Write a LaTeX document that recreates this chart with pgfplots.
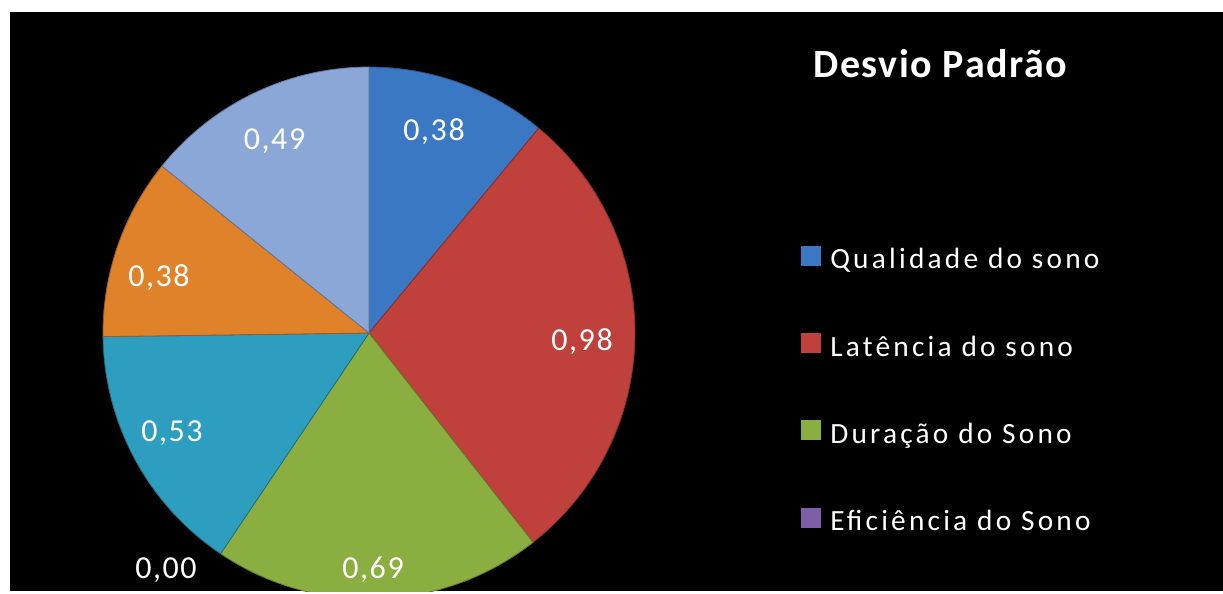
\documentclass[border=0pt]{standalone}
\usepackage{pgfplots}
\pgfplotsset{compat=1.18}
\usepackage{pgfplotstable}
\usepackage{fontspec}
\setmainfont{Carlito}
\newfontfamily\rotulos{Carlito}[LetterSpace=5]
\newfontfamily\legenda{Carlito}[LetterSpace=11]
\newfontfamily\titulo{Carlito}[LetterSpace=4]

% slice colours, clockwise from the top
\definecolor{fatia0}{HTML}{3A78C4}
\definecolor{fatia1}{HTML}{C0403C}
\definecolor{fatia2}{HTML}{8AAE3F}
\definecolor{fatia3}{HTML}{7D5FA8}
\definecolor{fatia4}{HTML}{2E9EC0}
\definecolor{fatia5}{HTML}{E0822A}
\definecolor{fatia6}{HTML}{8BA7D8}

% standard deviation of each component, clockwise from 12 o'clock;
% lx, ly: where its value label sits (offset from the centre, in px)
\pgfplotstableread{
valor lx    ly
0.38  65    192
0.98  213   -17
0.69  4     -245
0.00  -203  -245
0.53  -197  -108
0.38  -210  47
0.49  -94.5 183
}\dados

\pgfplotsset{
  fatia/.style={
    legend image code/.code={\fill[##1,draw=none] (0pt,-5.25pt) rectangle (15pt,9.75pt);}},
}

\begin{document}
\begin{tikzpicture}
% cumulative angles of the slices
\pgfplotstablegetrowsof{\dados}
\pgfmathtruncatemacro\nfatias{\pgfplotsretval-1}
\xdef\total{0}
\foreach \i in {0,...,\nfatias}{%
  \pgfplotstablegetelem{\i}{valor}\of\dados
  \pgfmathsetmacro\t{\total+\pgfplotsretval}\xdef\total{\t}}
\xdef\acum{0}
\foreach \i in {0,...,\nfatias}{%
  \pgfplotstablegetelem{\i}{valor}\of\dados
  \let\v\pgfplotsretval
  \pgfmathsetmacro\ini{90-360*\acum/\total}%
  \pgfmathsetmacro\fim{90-360*(\acum+\v)/\total}%
  \expandafter\xdef\csname ini\i\endcsname{\ini}%
  \expandafter\xdef\csname fim\i\endcsname{\fim}%
  \expandafter\xdef\csname val\i\endcsname{\v}%
  \pgfplotstablegetelem{\i}{lx}\of\dados
  \expandafter\xdef\csname lx\i\endcsname{\pgfplotsretval}%
  \pgfplotstablegetelem{\i}{ly}\of\dados
  \expandafter\xdef\csname ly\i\endcsname{\pgfplotsretval}%
  \pgfmathsetmacro\a{\acum+\v}\xdef\acum{\a}}
\def\R{266}
% page and chart area
\fill[white] (-7.5pt,-1.5pt) rectangle (909.75pt,443.25pt);
\fill[black] (0pt,0pt) rectangle (909.75pt,434.25pt);
\begin{axis}[
  at={(0pt,0pt)}, anchor=south west,
  scale only axis, width=909.75pt, height=434.25pt,
  xmin=-359, xmax=854, ymin=-258, ymax=321,
  hide axis, clip=true,
  legend entries={Qualidade do sono, Latência do sono, Duração do Sono, Eficiência do Sono},
  legend cell align=left,
  legend style={at={(axis cs:432,118.3)}, anchor=north west,
    draw=none, fill=none, inner sep=0pt, row sep=0pt,
    font=\legenda\fontsize{22}{26}\selectfont, text=white,
    nodes={inner sep=0pt, text height=40.5pt, text depth=25pt},
    /tikz/every odd column/.append style={column sep=6.75pt}},
  /pgf/number format/.cd, use comma, fixed, fixed zerofill, precision=2,
  assume math mode=true,
]
\pgfplotsinvokeforeach{0,...,6}{%
  \ifdim\csname val#1\endcsname pt>0pt
    \addplot[fatia, fill=fatia#1, draw=fatia#1!70!black, line width=0.6pt,
      data cs=polar, samples=90,
      domain=\csname fim#1\endcsname:\csname ini#1\endcsname]
      ({x},{\R}) -- (axis cs:0,0) -- cycle;
  \else
    \addplot[fatia, fill=fatia#1, draw=none] coordinates {(0,0)};
  \fi
}
\pgfplotsinvokeforeach{0,...,6}{%
  \edef\temp{\noexpand\node[anchor=base, inner sep=0pt, text=white,
      font=\noexpand\rotulos\noexpand\fontsize{24}{28}\noexpand\selectfont]
    at (axis cs:\csname lx#1\endcsname,\csname ly#1\endcsname)
    {\noexpand\pgfmathprintnumber{\csname val#1\endcsname}};}%
  \temp
}
\node[anchor=base west, inner sep=0pt, text=white,
  font=\titulo\bfseries\fontsize{30}{34}\selectfont]
  at (axis cs:444,255) {Desvio Padrão};
\end{axis}
\end{tikzpicture}
\end{document}
